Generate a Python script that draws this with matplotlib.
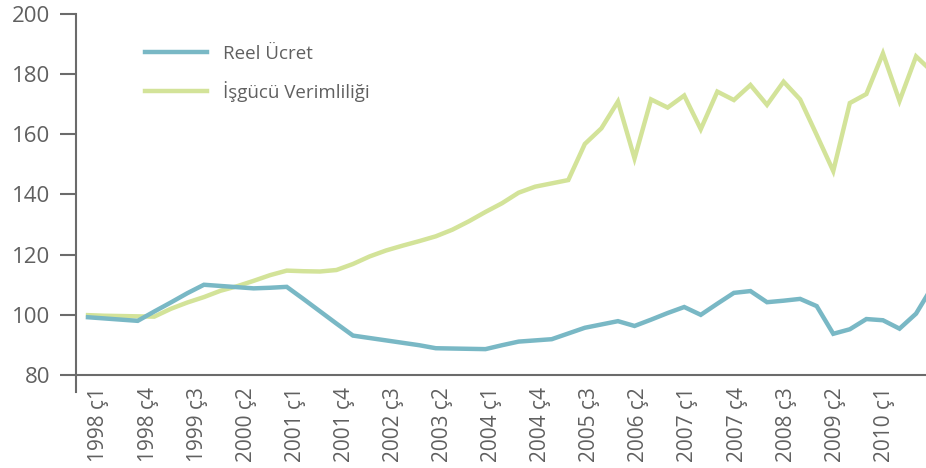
import matplotlib
matplotlib.use('Agg')
import matplotlib.pyplot as plt
import numpy as np

plt.rcParams['font.family'] = ['Open Sans', 'DejaVu Sans']

# quarterly index, 1998 Q1 .. 2010 Q4
reel_ucret = [99.2, 98.8, 98.4, 98.0, 101.1, 104.1, 107.2, 110.0, 109.6, 109.2,
              108.8, 109.0, 109.3, 105.3, 101.2, 97.1, 93.1, 92.3, 91.5, 90.7,
              89.9, 88.9, 88.8, 88.7, 88.6, 89.9, 91.1, 91.5, 91.9, 93.8,
              95.7, 96.8, 97.9, 96.3, 98.4, 100.6, 102.6, 100.0, 103.7, 107.3,
              107.9, 104.2, 104.7, 105.3, 102.9, 93.7, 95.2, 98.6, 98.2, 95.4,
              100.4, 109.5]
verimlilik = [99.9, 99.7, 99.6, 99.5, 99.4, 102.0, 104.1, 105.9, 108.0, 109.5,
              111.3, 113.2, 114.7, 114.5, 114.4, 114.9, 116.9, 119.4, 121.4, 123.0,
              124.5, 126.1, 128.3, 131.1, 134.2, 137.1, 140.6, 142.6, 143.7, 144.8,
              156.8, 162.0, 170.9, 152.0, 171.6, 168.9, 172.9, 161.7, 174.2, 171.4,
              176.4, 169.8, 177.5, 171.6, 159.8, 147.8, 170.4, 173.4, 186.9, 171.1,
              185.9, 180.7]
tick_labels = ['1998 ç1', '1998 ç4', '1999 ç3', '2000 ç2', '2001 ç1', '2001 ç4',
               '2002 ç3', '2003 ç2', '2004 ç1', '2004 ç4', '2005 ç3', '2006 ç2',
               '2007 ç1', '2007 ç4', '2008 ç3', '2009 ç2', '2010 ç1']

BLUE = '#79b8c5'
GREEN = '#d3e399'
AXC = '#6b6b6b'
TXT = '#606060'

fig = plt.figure(figsize=(9.26, 4.68), dpi=100)
ax = fig.add_axes([76/926, 93/468, 850/926, 361/468])

x = np.arange(len(reel_ucret))
ax.plot(x, verimlilik, color=GREEN, lw=3.2, solid_joinstyle='miter', label='İşgücü Verimliliği')
ax.plot(x, reel_ucret, color=BLUE, lw=3.2, solid_joinstyle='miter', label='Reel Ücret')

ax.set_xlim(-0.725, 50.6)
ax.set_ylim(80, 200)
ax.set_yticks(range(80, 201, 20))

# labels sit a little right of their quarter
tpos = np.arange(0, 49, 3) * 0.988 + 0.66
ax.set_xticks(tpos)
ax.set_xticklabels(tick_labels, rotation=90, fontsize=15, color=TXT)

for s in ['top', 'right']:
    ax.spines[s].set_visible(False)
for s in ['left', 'bottom']:
    ax.spines[s].set_color(AXC)
    ax.spines[s].set_linewidth(1.5)
ax.spines['left'].set_bounds(74.4, 200)

ax.tick_params(axis='y', length=11.5, width=1.5, color=AXC, pad=7, labelsize=16, labelcolor=TXT)
ax.tick_params(axis='x', length=0, pad=9)

h, l = ax.get_legend_handles_labels()
leg = ax.legend(h[::-1], l[::-1], loc='upper left', bbox_to_anchor=(145/926, 1 - 45/468),
                bbox_transform=fig.transFigure, frameon=False, fontsize=13.5,
                handlelength=3.3, handletextpad=0.85, labelspacing=0.95, borderpad=0,
                borderaxespad=0)
for t in leg.get_texts():
    t.set_color(TXT)

fig.savefig('out.png', dpi=100)
